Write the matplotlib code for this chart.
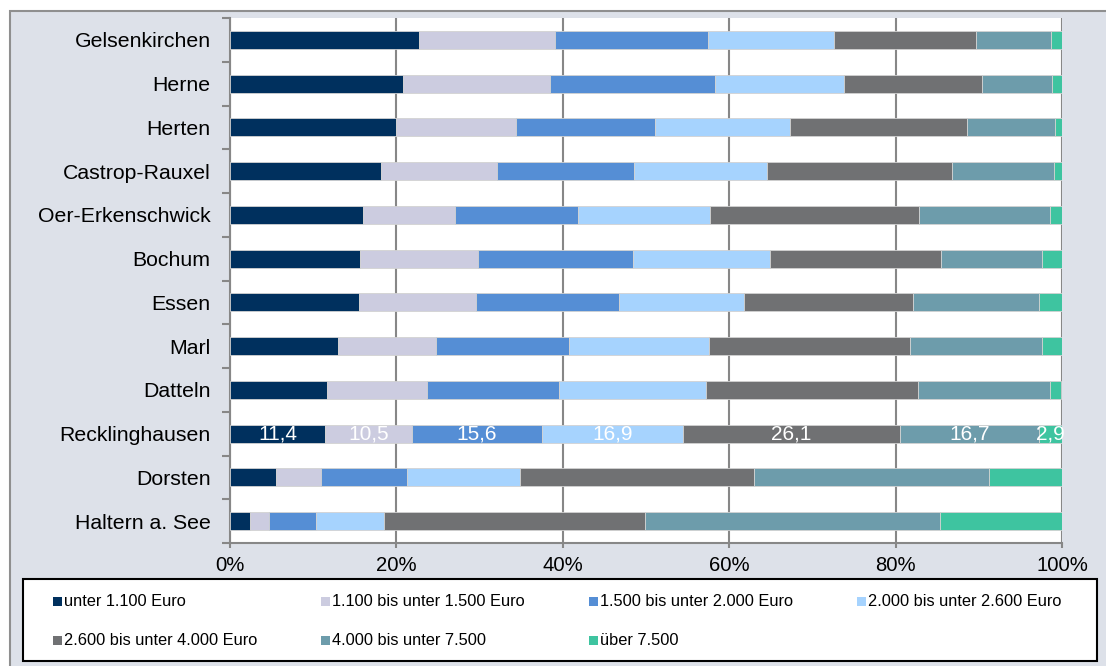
import matplotlib
matplotlib.use("Agg")
import matplotlib.pyplot as plt
from matplotlib.patches import Rectangle
import numpy as np

plt.rcParams['font.family'] = ['Liberation Sans', 'DejaVu Sans']

# Haushaltsnettoeinkommen, Anteile in Prozent je Stadt
CITIES = ["Gelsenkirchen", "Herne", "Herten", "Castrop-Rauxel", "Oer-Erkenschwick",
          "Bochum", "Essen", "Marl", "Datteln", "Recklinghausen", "Dorsten",
          "Haltern a. See"]

BRACKETS = ["unter 1.100 Euro", "1.100 bis unter 1.500 Euro",
            "1.500 bis unter 2.000 Euro", "2.000 bis unter 2.600 Euro",
            "2.600 bis unter 4.000 Euro", "4.000 bis unter 7.500", "über 7.500"]

UNDER_1100 = [22.7, 20.8, 20.0, 18.1, 16.0, 15.6, 15.5, 13.0, 11.6, 11.4, 5.5, 2.4]
FROM_1100 = [16.4, 17.7, 14.4, 14.0, 11.1, 14.2, 14.1, 11.8, 12.1, 10.5, 5.4, 2.3]
FROM_1500 = [18.3, 19.8, 16.7, 16.5, 14.7, 18.6, 17.2, 15.9, 15.8, 15.6, 10.4, 5.6]
FROM_2000 = [15.2, 15.5, 16.2, 15.9, 15.9, 16.5, 15.0, 16.9, 17.7, 16.9, 13.6, 8.2]
FROM_2600 = [17.1, 16.6, 21.3, 22.3, 25.1, 20.6, 20.3, 24.1, 25.5, 26.1, 28.1, 31.4]
FROM_4000 = [9.0, 8.4, 10.6, 12.2, 15.8, 12.1, 15.1, 15.9, 15.8, 16.7, 28.2, 35.4]
OVER_7500 = [1.3, 1.2, 0.8, 1.0, 1.4, 2.4, 2.8, 2.4, 1.4, 2.9, 8.8, 14.7]

SERIES = [UNDER_1100, FROM_1100, FROM_1500, FROM_2000, FROM_2600, FROM_4000, OVER_7500]
COLORS = ["#00305e", "#cccce0", "#558ed5", "#a6d3fe", "#707173", "#6d9cab", "#3ec4a0"]

LABELLED_CITY = "Recklinghausen"
XTICKS = [0, 20, 40, 60, 80, 100]

W, H = 1106, 666
BG = "#dde1e9"
GRID = "#878787"


def px(x, y):
    # pixel position (top-left origin) -> figure fraction
    return x / W, 1 - y / H


def main():
    fig = plt.figure(figsize=(W / 100, H / 100), dpi=100)
    fig.patch.set_facecolor("white")

    # grey-blue chart frame
    x0, y0 = px(10, 672)
    fig.patches.append(Rectangle((x0, y0), 1.2, (672 - 11) / H, transform=fig.transFigure,
                                 facecolor=BG, edgecolor="#8f8f8f", linewidth=1.5, zorder=-2))

    left, top = px(230, 18)
    right, bottom = px(1062, 543)
    ax = fig.add_axes([left, bottom, right - left, top - bottom])
    ax.set_facecolor("white")

    y = np.arange(len(CITIES))
    start = np.zeros(len(CITIES))
    for values, color in zip(SERIES, COLORS):
        vals = np.array(values)
        ax.barh(y, vals, left=start, height=0.41, color=color,
                edgecolor="#d2d2d2", linewidth=0.6, zorder=3)
        start += vals

    # value labels for one city
    row = CITIES.index(LABELLED_CITY)
    pos = 0.0
    for values in SERIES:
        v = values[row]
        ax.text(pos + v / 2, row, f"{v:.1f}".replace(".", ","), color="white",
                ha="center", va="center", fontsize=15, zorder=4, clip_on=False)
        pos += v

    ax.set_xlim(0, 100)
    ax.set_ylim(len(CITIES) - 0.5, -0.5)
    ax.set_xticks(XTICKS)
    ax.set_xticklabels([f"{t}%" for t in XTICKS], fontsize=14.6)
    ax.set_yticks(y)
    ax.set_yticklabels(CITIES, fontsize=15.3)
    ax.set_yticks(np.arange(len(CITIES) + 1) - 0.5, minor=True)

    ax.xaxis.grid(True, color=GRID, linewidth=1.5, zorder=1)
    ax.set_axisbelow(True)
    for side in ("top", "right"):
        ax.spines[side].set_visible(False)
    for side in ("left", "bottom"):
        ax.spines[side].set_color(GRID)
        ax.spines[side].set_linewidth(1.5)

    ax.tick_params(axis="y", which="major", length=0, pad=14)
    ax.tick_params(axis="y", which="minor", length=5.8, width=1.5, color=GRID, direction="out")
    ax.tick_params(axis="x", length=3.6, width=1.5, color=GRID, direction="out", pad=6)

    # legend box, laid out like the spreadsheet legend
    lx, ly = px(23, 661)
    fig.patches.append(Rectangle((lx, ly), (1097 - 23) / W, (661 - 579) / H,
                                 transform=fig.transFigure, facecolor="white",
                                 edgecolor="black", linewidth=1.5, zorder=-1))
    for i, (label, color) in enumerate(zip(BRACKETS, COLORS)):
        col, r = i % 4, i // 4
        mx = 53 + col * 268
        my = 601.5 if r == 0 else 640.5
        bx, by = px(mx, my + 4.5)
        fig.patches.append(Rectangle((bx, by), 9 / W, 9 / H, transform=fig.transFigure,
                                     facecolor=color, edgecolor="none", zorder=1))
        tx, ty = px(mx + 11, my)
        fig.text(tx, ty, label, fontsize=11.8, ha="left", va="center")

    fig.savefig("out.png", dpi=100)


main()
